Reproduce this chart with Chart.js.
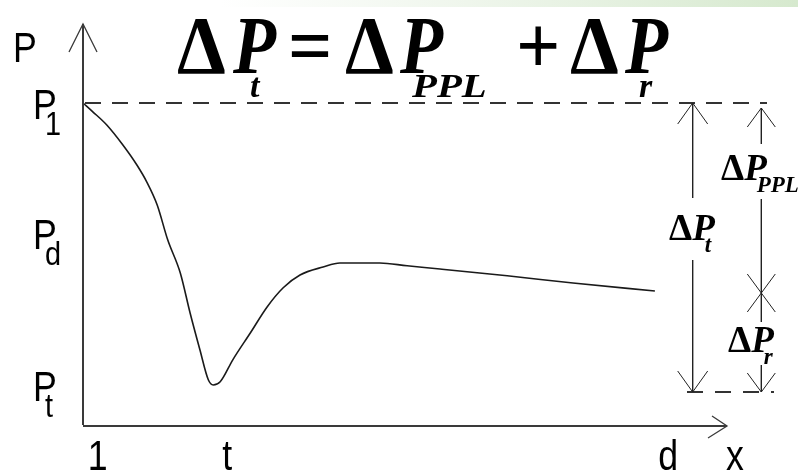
<!DOCTYPE html>
<html>
<head>
<meta charset="utf-8">
<script src="https://cdn.jsdelivr.net/npm/chart.js@4.4.1/dist/chart.umd.min.js"></script>
<style>
  html, body { margin: 0; padding: 0; background: #fff; }
  canvas { display: block; }
</style>
</head>
<body>
<canvas id="pressureChart" width="798" height="475"></canvas>
<script>
// Curva de pressão ao longo do eixo x (unidades arbitrárias)
const curveX = [0, 1.4, 3.4, 5.7, 7.7, 9.1, 10.6, 12.1, 13.9, 15.3, 16.7, 17.9, 18.6, 19.6, 21.4, 23.9, 26.3, 28.6, 31, 34.3, 36.7, 42.4, 46.3, 51, 60.6, 70, 81.7];
const curveY = [80.5, 78.3, 75, 70, 65, 60.8, 55, 46.3, 38, 28, 18.8, 11.3, 10, 10.8, 16.3, 23, 29.5, 34.3, 37.5, 39.5, 40.5, 40.5, 39.8, 39, 37.3, 35.5, 33.5];

// Rótulos dos eixos
const xTickLabels = ['1', 't', 'd'];
const xTickValues = [2.1, 20.6, 83.6];
const yTickSubs = ['1', 'd', 't'];
const yTickValues = [80.5, 48, 10];

// Níveis de pressão e cotas
const levelP1 = 80.5;
const levelPt = 8.25;
const levelSplit = 33;
const arrowTotalX = 87.1;
const arrowPartsX = 96.9;

const SERIF = "'Liberation Serif', 'Times New Roman', serif";
const SANS = "'Liberation Sans', Arial, sans-serif";

function sansText(ctx, text, x, y, size, align) {
    ctx.save();
    ctx.font = size + 'px ' + SANS;
    ctx.textAlign = align || 'left';
    ctx.textBaseline = 'alphabetic';
    ctx.translate(x, y);
    ctx.scale(0.85, 1);
    ctx.fillText(text, 0, 0);
    ctx.restore();
}

// Texto com escala horizontal (fórmula)
function serifText(ctx, text, x, y, font, sx) {
    ctx.save();
    ctx.font = font;
    ctx.textAlign = 'left';
    ctx.textBaseline = 'alphabetic';
    ctx.translate(x, y);
    ctx.scale(sx, 1);
    ctx.fillText(text, 0, 0);
    ctx.restore();
}

// ΔP com índice, em Times negrito
function deltaP(ctx, x, y, size, sub, subSize) {
    ctx.save();
    ctx.textBaseline = 'alphabetic';
    ctx.textAlign = 'left';
    ctx.font = 'bold ' + size + 'px ' + SERIF;
    ctx.fillText('\u0394', x, y);
    const dw = ctx.measureText('\u0394').width;
    ctx.font = 'italic bold ' + size + 'px ' + SERIF;
    ctx.fillText('P', x + dw, y);
    const pw = ctx.measureText('P').width;
    ctx.font = 'italic bold ' + subSize + 'px ' + SERIF;
    ctx.fillText(sub, x + dw + pw * 0.55, y + subSize * 0.5);
    ctx.restore();
}

function line(ctx, x1, y1, x2, y2) {
    ctx.beginPath();
    ctx.moveTo(x1, y1);
    ctx.lineTo(x2, y2);
    ctx.stroke();
}

// Ponta de seta aberta (dir = 1 para cima, -1 para baixo)
function head(ctx, x, y, dir, w, h) {
    ctx.beginPath();
    ctx.moveTo(x - w, y + dir * h);
    ctx.lineTo(x, y);
    ctx.lineTo(x + w, y + dir * h);
    ctx.stroke();
}

const diagramPlugin = {
    id: 'diagram',
    beforeDraw(chart) {
        const ctx = chart.ctx;
        ctx.save();
        ctx.fillStyle = '#ffffff';
        ctx.fillRect(0, 0, chart.width, chart.height);
        const g = ctx.createLinearGradient(220, 0, chart.width, 0);
        g.addColorStop(0, 'rgba(220,235,214,0)');
        g.addColorStop(1, 'rgba(214,233,206,1)');
        ctx.fillStyle = g;
        ctx.fillRect(220, 0, chart.width - 220, 7);
        ctx.restore();
    },
    afterDraw(chart) {
        const ctx = chart.ctx;
        const sx = chart.scales.x, sy = chart.scales.y;
        const px = v => sx.getPixelForValue(v);
        const py = v => sy.getPixelForValue(v);
        const x0 = px(0), y0 = py(0);

        ctx.save();
        ctx.lineCap = 'butt';

        // Eixos com setas
        ctx.strokeStyle = '#3a3a3a';
        ctx.lineWidth = 2;
        line(ctx, x0, y0, x0, 24);
        line(ctx, x0, y0 + 1, 727, y0 + 1);
        ctx.lineWidth = 1.3;
        head(ctx, x0, 24, 1, 14, 28);
        ctx.beginPath();
        ctx.moveTo(712, y0 - 9);
        ctx.lineTo(727, y0 + 1);
        ctx.lineTo(708, y0 + 13);
        ctx.stroke();

        // Linhas tracejadas P1 e Pt
        ctx.strokeStyle = '#333';
        ctx.lineWidth = 1.8;
        ctx.setLineDash([16, 11]);
        line(ctx, x0 + 2, py(levelP1), 767, py(levelP1));
        ctx.setLineDash([16, 12]);
        line(ctx, 687, py(levelPt), 774, py(levelPt));
        ctx.setLineDash([]);

        // Cota ΔPt
        ctx.strokeStyle = '#222';
        ctx.lineWidth = 1.4;
        const ax = px(arrowTotalX);
        line(ctx, ax, py(levelP1), ax, 198);
        line(ctx, ax, 260, ax, py(levelPt));
        ctx.lineWidth = 1;
        head(ctx, ax, py(levelP1), 1, 15, 21);
        head(ctx, ax, py(levelPt), -1, 15, 21);

        // Cotas ΔPPPL e ΔPr
        const bx = px(arrowPartsX);
        const ys = py(levelSplit);
        ctx.lineWidth = 1.4;
        line(ctx, bx, py(levelP1) + 5, bx, 144);
        line(ctx, bx, 199, bx, 322);
        line(ctx, bx, 365, bx, py(levelPt));
        ctx.lineWidth = 1;
        head(ctx, bx, py(levelP1) + 5, 1, 14, 19);
        head(ctx, bx, ys, -1, 14, 19);
        head(ctx, bx, ys, 1, 14, 19);
        head(ctx, bx, py(levelPt), -1, 14, 19);

        // Rótulos dos eixos
        ctx.fillStyle = '#000';
        sansText(ctx, 'P', 13, 62, 42);
        yTickValues.forEach((v, i) => {
            const base = py(v) + 15.5;
            sansText(ctx, 'P', 33, base, 42);
            sansText(ctx, yTickSubs[i], 45, base + 16, 34);
        });
        xTickValues.forEach((v, i) => {
            sansText(ctx, xTickLabels[i], px(v), 470, 42, 'center');
        });
        sansText(ctx, 'x', 735, 470, 42, 'center');

        // Textos das cotas
        deltaP(ctx, 669, 240, 37, 't', 23);
        deltaP(ctx, 721, 180, 37, 'PPL', 23);
        deltaP(ctx, 728, 352, 37, 'r', 23);

        // Fórmula do título
        const fD = 'bold 82px ' + SERIF;
        const fP = 'italic bold 82px ' + SERIF;
        const fS = 'italic bold 34px ' + SERIF;
        serifText(ctx, '\u0394', 177, 73, fD, 0.95);
        serifText(ctx, 'P', 233, 73, fP, 0.86);
        serifText(ctx, 't', 250, 97, fS, 1);
        serifText(ctx, '=', 288, 73, fD, 0.95);
        serifText(ctx, '\u0394', 345, 73, fD, 0.95);
        serifText(ctx, 'P', 400, 73, fP, 0.86);
        serifText(ctx, 'PPL', 412, 97, fS, 1.2);
        serifText(ctx, '+', 516, 73, fD, 0.95);
        serifText(ctx, '\u0394', 570, 73, fD, 0.95);
        serifText(ctx, 'P', 625, 73, fP, 0.86);
        serifText(ctx, 'r', 639, 97, fS, 1);

        ctx.restore();
    }
};

new Chart(document.getElementById('pressureChart'), {
    type: 'scatter',
    data: {
        datasets: [{
            data: curveX.map((x, i) => ({ x: x, y: curveY[i] })),
            showLine: true,
            borderColor: '#1a1a1a',
            borderWidth: 1.6,
            pointRadius: 0,
            cubicInterpolationMode: 'monotone'
        }]
    },
    options: {
        responsive: false,
        animation: false,
        layout: {
            padding: { left: 83, right: 15, top: 25, bottom: 50 }
        },
        scales: {
            x: { type: 'linear', min: 0, max: 100, display: false },
            y: { type: 'linear', min: 0, max: 100, display: false }
        },
        plugins: {
            legend: { display: false },
            tooltip: { enabled: false }
        }
    },
    plugins: [diagramPlugin]
});
</script>
</body>
</html>
